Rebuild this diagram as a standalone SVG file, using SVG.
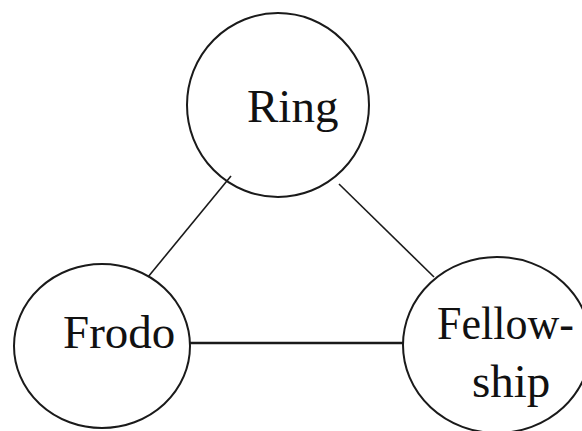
<svg xmlns="http://www.w3.org/2000/svg" width="582" height="431" viewBox="0 0 582 431">
<style>
.node{fill:none;stroke:#1a1a1a;stroke-width:2}
.lbl{font-family:"Liberation Serif","Times New Roman",serif;font-size:47px;fill:#111}
.edge{stroke:#1a1a1a;stroke-width:1.6;fill:none}
.thick{stroke-width:2.6}
</style>
<rect width="582" height="431" fill="#fff"/>
<g id="connectors">
<line class="edge" x1="231" y1="176" x2="148" y2="277"/>
<line class="edge" x1="339" y1="184" x2="434" y2="277"/>
<line class="edge thick" x1="190" y1="343" x2="403" y2="343"/>
</g>
<g id="ring">
<ellipse class="node" cx="278" cy="105" rx="91" ry="92"/>
<text class="lbl" x="247" y="122">Ring</text>
</g>
<g id="frodo">
<ellipse class="node" cx="102" cy="346" rx="88" ry="82"/>
<text class="lbl" x="63" y="348">Frodo</text>
</g>
<g id="fellowship">
<ellipse class="node" cx="497" cy="345" rx="94" ry="88"/>
<text class="lbl" x="437" y="339" textLength="137" lengthAdjust="spacingAndGlyphs">Fellow-</text>
<text class="lbl" x="472" y="397">ship</text>
</g>
</svg>
